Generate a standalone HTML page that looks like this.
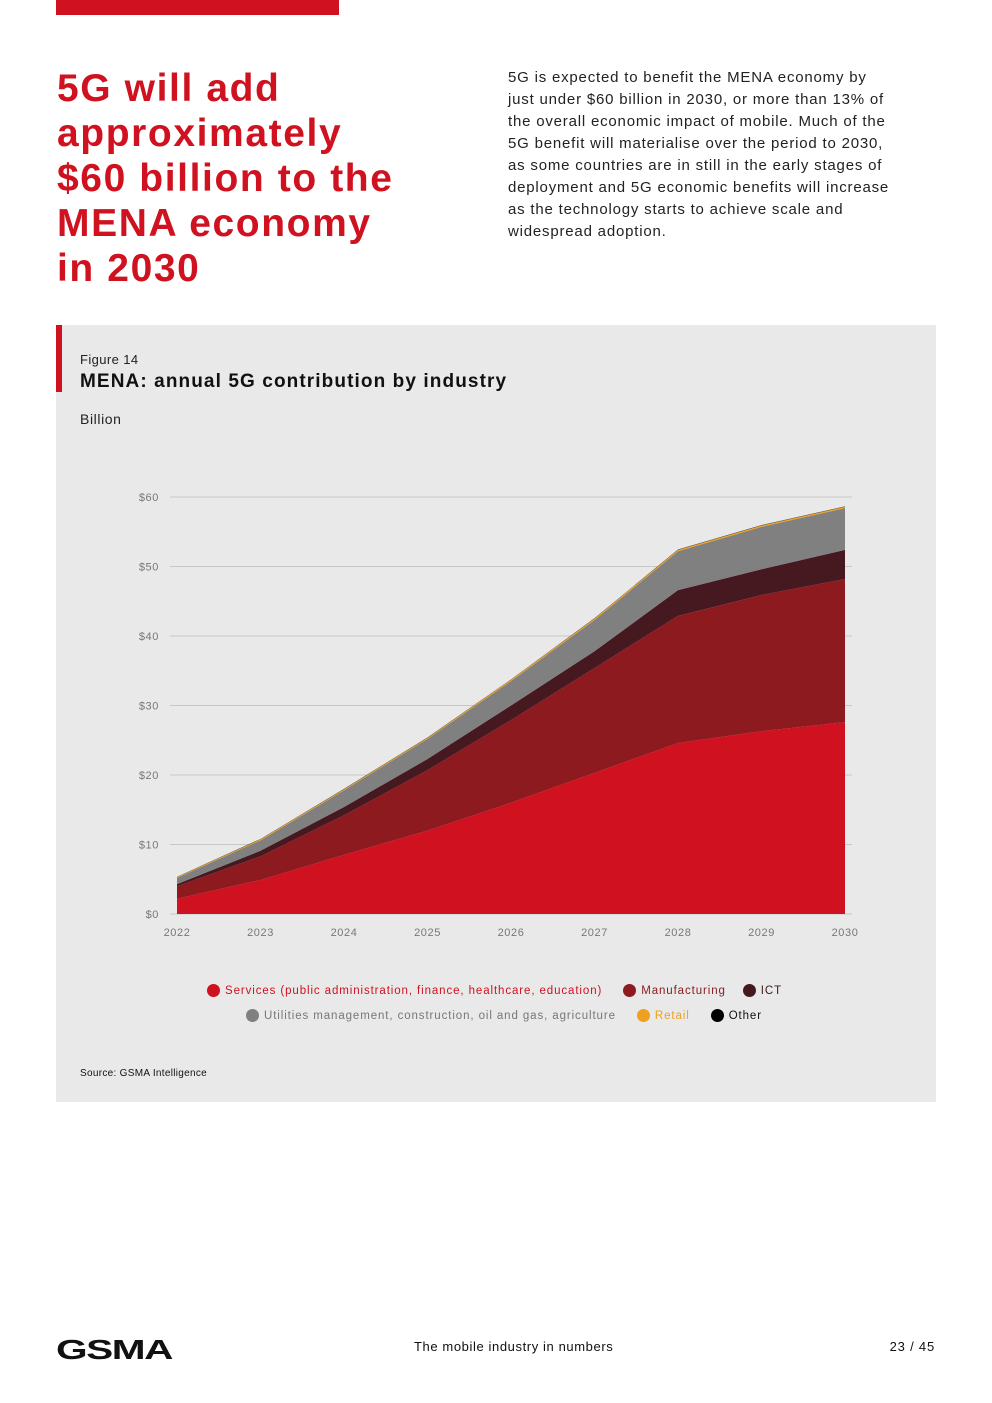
<!DOCTYPE html>
<html><head><meta charset="utf-8">
<style>
body{margin:0;width:992px;height:1403px;background:#fff;font-family:"Liberation Sans",sans-serif;position:relative;overflow:hidden}
.abs{position:absolute}
h1{position:absolute;left:57px;top:66px;margin:0;font-size:39px;line-height:45px;color:#d0111f;font-weight:bold;letter-spacing:1.6px}
.intro{left:508px;top:67px;width:460px;font-size:15px;line-height:22px;color:#222;letter-spacing:0.8px;white-space:nowrap}
.panel{left:56px;top:325px;width:880px;height:777px;background:#e8e9e8}
.leg{font-size:11.5px;letter-spacing:0.9px;display:flex;align-items:center;gap:5px;white-space:nowrap}
.dot{width:13px;height:13px;border-radius:50%;display:inline-block}
</style></head><body>
<div class="abs" style="left:56px;top:0;width:283px;height:15px;background:#d0111f"></div>
<h1>5G will add<br>approximately<br>$60 billion to the<br>MENA economy<br>in 2030</h1>
<div class="abs intro">5G is expected to benefit the MENA economy by<br>just under $60 billion in 2030, or more than 13% of<br>the overall economic impact of mobile. Much of the<br>5G benefit will materialise over the period to 2030,<br>as some countries are in still in the early stages of<br>deployment and 5G economic benefits will increase<br>as the technology starts to achieve scale and<br>widespread adoption.</div>
<div class="abs panel"></div>
<div class="abs" style="left:56px;top:325px;width:6px;height:67px;background:#d0111f"></div>
<div class="abs" style="left:80px;top:352px;font-size:13px;color:#222;letter-spacing:0.4px">Figure 14</div>
<div class="abs" style="left:80px;top:371px;font-size:19px;font-weight:bold;color:#111;letter-spacing:1.1px">MENA: annual 5G contribution by industry</div>
<div class="abs" style="left:80px;top:411px;font-size:14px;color:#222;letter-spacing:0.6px">Billion</div>
<svg id="chart" class="abs" style="left:0;top:0" width="992" height="960"></svg>
<div class="abs leg" style="left:207px;top:984px">
<span class="leg" style="color:#d0111f"><span class="dot" style="background:#d0111f"></span>Services (public administration, finance, healthcare, education)</span>
<span class="leg" style="color:#8c1a1f;margin-left:16px"><span class="dot" style="background:#8c1a1f"></span>Manufacturing</span>
<span class="leg" style="color:#3c1a1e;margin-left:12px"><span class="dot" style="background:#45191f"></span>ICT</span>
</div>
<div class="abs leg" style="left:246px;top:1009px">
<span class="leg" style="color:#777"><span class="dot" style="background:#808080"></span>Utilities management, construction, oil and gas, agriculture</span>
<span class="leg" style="color:#f0a020;margin-left:16px"><span class="dot" style="background:#f0a020"></span>Retail</span>
<span class="leg" style="color:#111;margin-left:16px"><span class="dot" style="background:#000"></span>Other</span>
</div>
<div class="abs" style="left:80px;top:1068px;font-size:10px;color:#111;letter-spacing:0.3px">Source: GSMA Intelligence</div>
<div class="abs" style="left:56px;top:1334px;font-size:28px;font-weight:900;letter-spacing:-1px;color:#111;transform:scaleX(1.45);transform-origin:left">GSMA</div>
<div class="abs" style="left:414px;top:1339px;font-size:13px;color:#111;letter-spacing:0.6px">The mobile industry in numbers</div>
<div class="abs" style="right:57px;top:1339px;font-size:13px;color:#111;letter-spacing:0.8px">23 / 45</div>
<script>
const years=[2022,2023,2024,2025,2026,2027,2028,2029,2030];
const services=[2.2,4.9,8.5,12,16,20.3,24.6,26.3,27.6];
const manufacturing=[1.8,3.4,5.7,8.7,11.9,15.1,18.3,19.6,20.6];
const ict=[0.3,0.8,1.2,1.6,2.1,2.4,3.7,3.7,4.2];
const utilities=[0.9,1.5,2.4,2.9,3.5,4.5,5.6,6.1,6.0];
const retail=[0.1,0.15,0.15,0.15,0.2,0.2,0.2,0.2,0.2];
const other=[0.05,0.05,0.05,0.05,0.05,0.05,0.05,0.05,0.05];
const yTicks=[0,10,20,30,40,50,60];
const NS="http://www.w3.org/2000/svg";
const svg=document.getElementById('chart');
const x=i=>177+i*(845-177)/(years.length-1);
const y=v=>914-v*(914-497)/60;
function mk(t,a){const e=document.createElementNS(NS,t);for(const k in a)e.setAttribute(k,a[k]);svg.appendChild(e);return e;}
yTicks.forEach(t=>{
 const l=mk('line',{x1:170,x2:852,y1:y(t),y2:y(t),stroke:'#bbb','stroke-width':0.8});
 
 
 const tx=mk('text',{x:159,y:y(t)+4,'text-anchor':'end','font-size':11,fill:'#777','font-family':'Liberation Sans','letter-spacing':0.6});
 tx.textContent='$'+t;
 
 
});
years.forEach((yr,i)=>{
 const tx=mk('text',{x:x(i),y:936,'text-anchor':'middle','font-size':11,fill:'#777','font-family':'Liberation Sans','letter-spacing':0.6});
 tx.textContent=yr;
 
 
});
const series=[[services,'#d0111f','services'],[manufacturing,'#8c1a1f','manufacturing'],[ict,'#45191f','ict'],[utilities,'#808080','utilities'],[retail,'#f0a020','retail'],[other,'#111','other']];
let base=years.map(()=>0);
series.forEach(([vals,col,name])=>{
 const top=base.map((b,i)=>b+vals[i]);
 let d='M'+x(0)+','+y(top[0]);
 for(let i=1;i<years.length;i++)d+=' L'+x(i)+','+y(top[i]);
 for(let i=years.length-1;i>=0;i--)d+=' L'+x(i)+','+y(base[i]);
 const p=mk('path',{d:d+'Z',fill:col});
 
 
 base=top;
});
</script>
</body></html>
